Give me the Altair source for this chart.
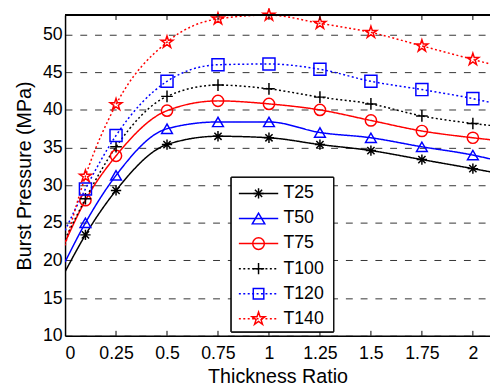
import altair as alt
import pandas as pd

# ---- data ----
x_vals = [0, 0.1, 0.25, 0.5, 0.75, 1.0, 1.25, 1.5, 1.75, 2.0, 2.1]
T25 = [18.5, 23.4, 29.3, 35.4, 36.5, 36.3, 35.4, 34.6, 33.4, 32.2, 31.7]
T50 = [19.8, 25.0, 31.3, 37.5, 38.4, 38.4, 37.0, 36.3, 35.1, 34.0, 33.4]
T75 = [22.4, 28.0, 33.9, 39.9, 41.2, 40.8, 40.0, 38.6, 37.2, 36.3, 36.0]
T100 = [22.8, 28.2, 35.1, 41.8, 43.3, 42.8, 41.7, 40.8, 39.2, 38.2, 37.9]
T120 = [24.0, 29.5, 36.6, 43.8, 46.0, 46.1, 45.4, 43.8, 42.7, 41.5, 40.9]
T140 = [22.0, 31.2, 40.7, 49.0, 52.1, 52.6, 51.5, 50.3, 48.5, 46.7, 46.0]

series_names = ["T25", "T50", "T75", "T100", "T120", "T140"]
series_values = [T25, T50, T75, T100, T120, T140]
marker_x = [0.1, 0.25, 0.5, 0.75, 1.0, 1.25, 1.5, 1.75, 2.0]

x_ticks = [0, 0.25, 0.5, 0.75, 1, 1.25, 1.5, 1.75, 2]
y_ticks = [10, 15, 20, 25, 30, 35, 40, 45, 50]

# ---- styles ----
colors = ["#000000", "#0000ff", "#ff0000", "#000000", "#0000ff", "#ff0000"]
dashes = [[1, 0], [1, 0], [1, 0], [2, 2.5], [2, 2.5], [2, 2.5]]
ASTER = "M-1,0L1,0M0,-1L0,1M-0.7,-0.7L0.7,0.7M-0.7,0.7L0.7,-0.7"
PLUS = "M-1,0L1,0M0,-1L0,1"
STAR = ("M0,-1L0.2245,-0.309L0.951,-0.309L0.3633,0.118L0.5878,0.809L0,0.382"
        "L-0.5878,0.809L-0.3633,0.118L-0.951,-0.309L-0.2245,-0.309Z")
shapes = [ASTER, "triangle-up", "circle", PLUS, "square", STAR]
sizes = [110, 160, 140, 130, 115, 190]

W, H = 432, 326
FONT = "Liberation Sans"

rows = []
for name, vals in zip(series_names, series_values):
    for xv, yv in zip(x_vals, vals):
        rows.append({"series": name, "x": xv, "y": yv})
df = pd.DataFrame(rows)
df_pts = df[df["x"].isin(marker_x)]

xscale = alt.Scale(domain=[0, 2.084], nice=False, zero=False)
yscale = alt.Scale(domain=[10, 52.6], nice=False, zero=False)

base_x = alt.X("x:Q", scale=xscale,
               axis=alt.Axis(values=x_ticks, labelExpr="toString(datum.value)", title="Thickness Ratio",
                             grid=False, ticks=False, domainColor="black", domainWidth=1.5,
                             labelFontSize=18, labelPadding=9, labelColor="black",
                             titleFontSize=20, titleFontWeight="normal", titleColor="black",
                             titlePadding=5, labelFont=FONT, titleFont=FONT))
base_y = alt.Y("y:Q", scale=yscale,
               axis=alt.Axis(values=y_ticks, title="Burst Pressure (MPa)",
                             grid=True, gridDash=[7, 8], gridColor="#333333", gridWidth=1,
                             ticks=False, domainColor="black", domainWidth=1.5,
                             labelFontSize=18, labelPadding=3, labelColor="black",
                             titleFontSize=20, titleFontWeight="normal", titleColor="black",
                             titlePadding=8, labelFont=FONT, titleFont=FONT))

color_enc = alt.Color("series:N", scale=alt.Scale(domain=series_names, range=colors), legend=None)

lines = alt.Chart(df).mark_line(clip=True, interpolate="monotone", strokeWidth=1.5).encode(
    x=base_x, y=base_y, color=color_enc,
    strokeDash=alt.StrokeDash("series:N", scale=alt.Scale(domain=series_names, range=dashes), legend=None),
    detail="series:N",
)

points = alt.Chart(df_pts).mark_point(filled=False, strokeWidth=1.5, opacity=1).encode(
    x="x:Q", y="y:Q", color=color_enc,
    shape=alt.Shape("series:N", scale=alt.Scale(domain=series_names, range=shapes), legend=None),
    size=alt.Size("series:N", scale=alt.Scale(domain=series_names, range=sizes), legend=None),
)

# frame top border and inward ticks
tick_df = pd.DataFrame({"x": x_ticks[1:]})
top_border = alt.Chart(tick_df).mark_rule(color="black", strokeWidth=1.5).encode(
    x=alt.value(0), x2=alt.value(W), y=alt.value(0))
top_ticks = alt.Chart(tick_df).mark_rule(color="black", strokeWidth=1).encode(
    x="x:Q", y=alt.value(0), y2=alt.value(5))
bot_ticks = alt.Chart(tick_df).mark_rule(color="black", strokeWidth=1).encode(
    x="x:Q", y=alt.value(H), y2=alt.value(H - 5))

# legend
leg_df = pd.DataFrame({"series": series_names})
legend_box = alt.Chart(leg_df).mark_rect(fill="white", stroke="black", strokeWidth=1).encode(
    x=alt.value(169), x2=alt.value(273), y=alt.value(165), y2=alt.value(322))
legend_layers = [legend_box]
for i, name in enumerate(series_names):
    yy = 181.3 + 25.5 * i
    one = pd.DataFrame({"series": [name]})
    legend_layers.append(alt.Chart(one).mark_rule(strokeWidth=1.5, color=colors[i], strokeDash=dashes[i]).encode(
        x=alt.value(176.7), x2=alt.value(216.7), y=alt.value(yy)))
    legend_layers.append(alt.Chart(one).mark_point(filled=False, strokeWidth=1.5, opacity=1,
                                                   shape=shapes[i], size=sizes[i], color=colors[i]).encode(
        x=alt.value(196.7), y=alt.value(yy)))
    legend_layers.append(alt.Chart(one).mark_text(align="left", baseline="middle", fontSize=18,
                                                  font=FONT, color="black").encode(
        x=alt.value(222), y=alt.value(yy), text="series:N"))

chart = alt.layer(lines, points, top_border, top_ticks, bot_ticks, *legend_layers).properties(
    width=W, height=H,
    autosize=alt.AutoSizeParams(type="none"),
    padding={"left": 58, "top": 4, "right": 0, "bottom": 54},
).configure_view(stroke=None).configure(background="white")

chart.save("out.html", embed_options={"renderer": "svg", "actions": False})
